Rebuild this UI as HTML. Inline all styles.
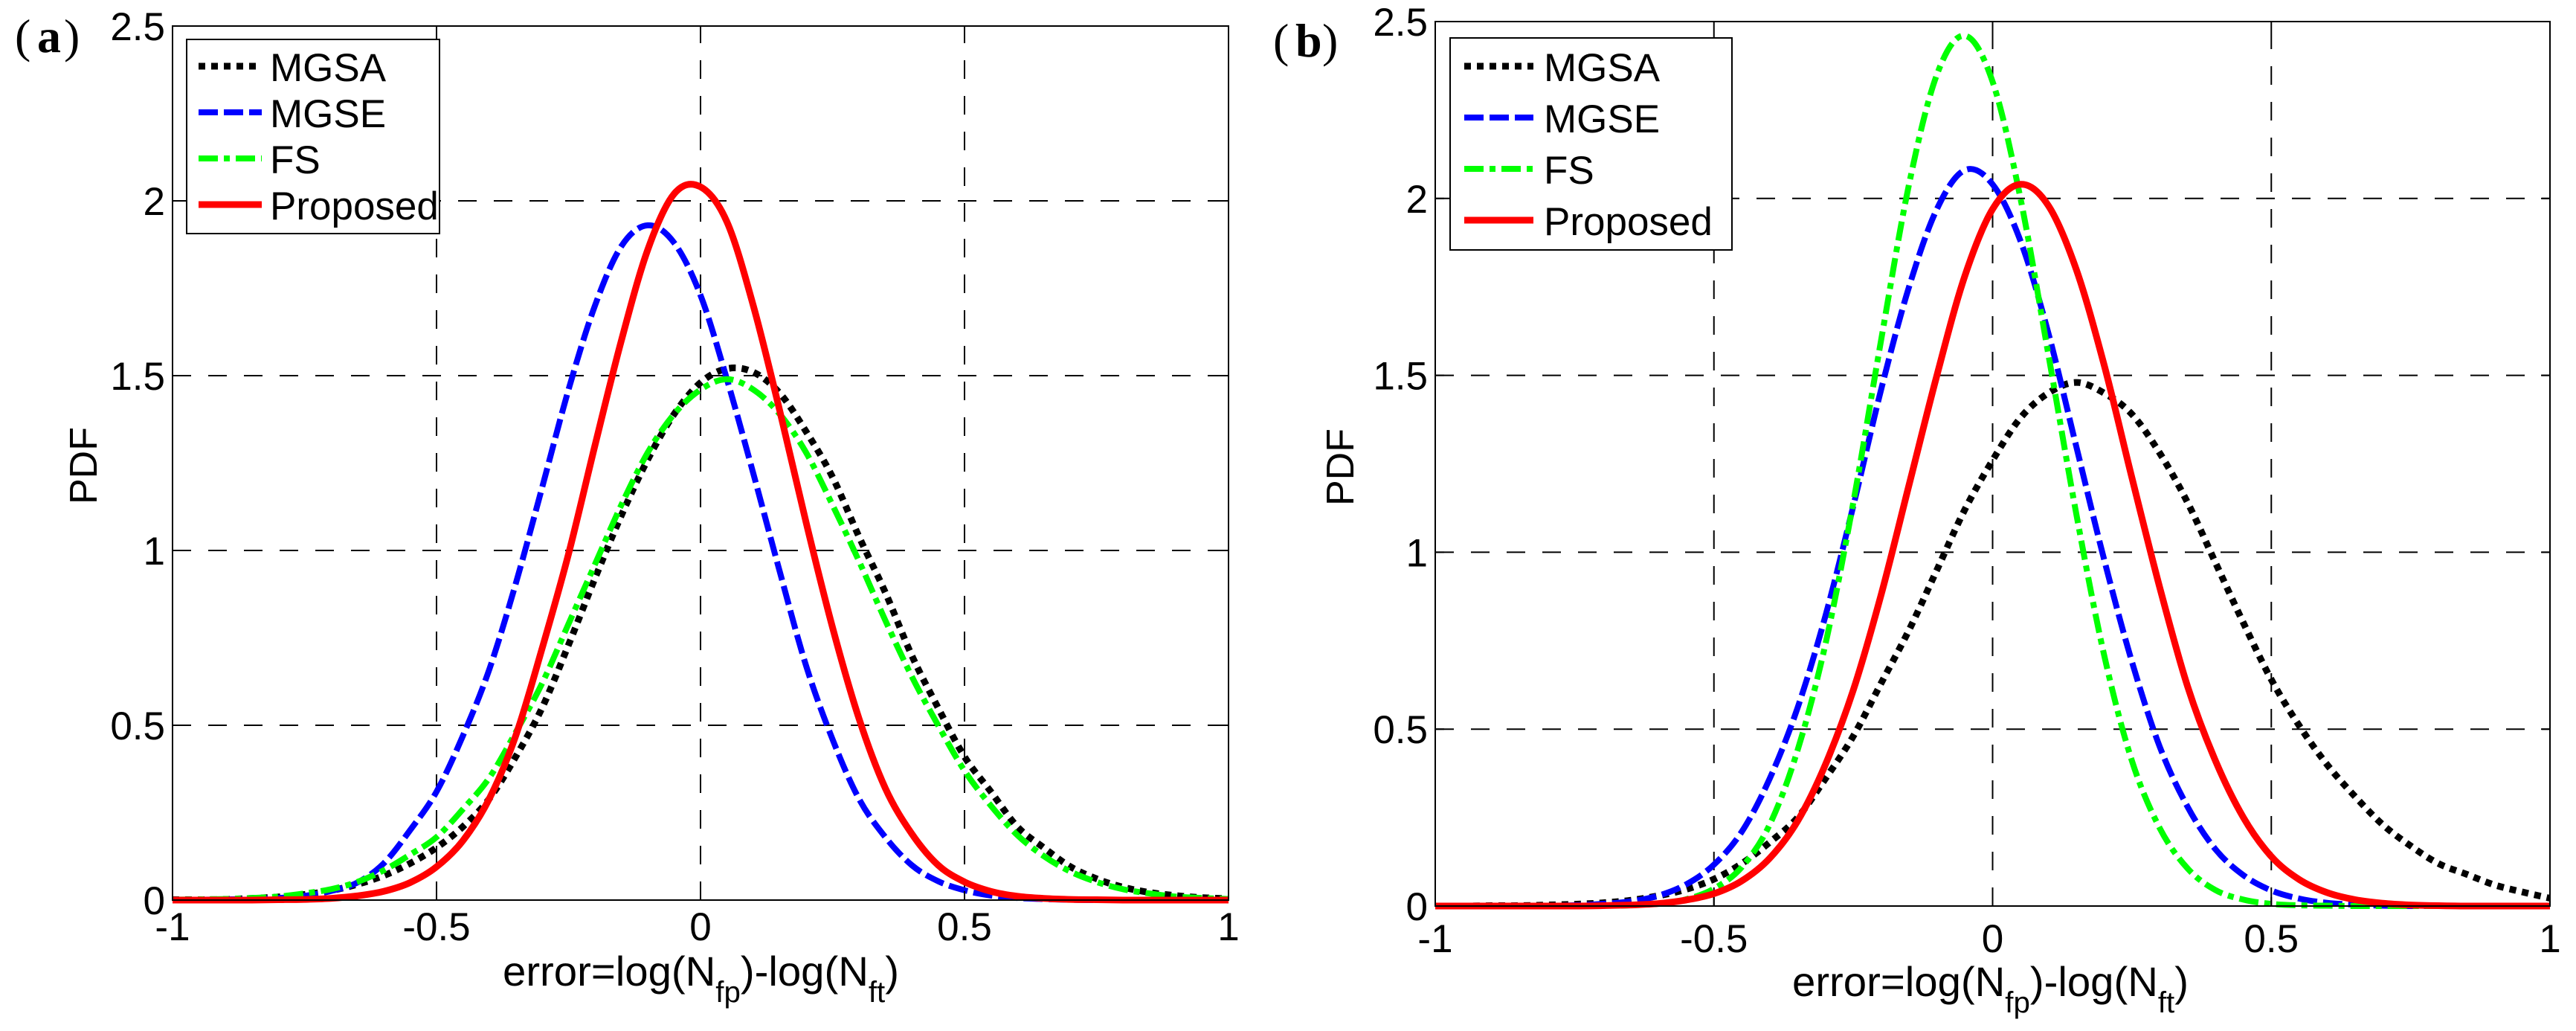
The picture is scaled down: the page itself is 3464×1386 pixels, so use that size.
<!DOCTYPE html>
<html><head><meta charset="utf-8"><style>
html,body{margin:0;padding:0;background:#fff;}
svg{display:block;font-family:"Liberation Sans",Arial,sans-serif;}
</style></head><body>
<svg id="fig" width="3464" height="1386" viewBox="0 0 3464 1386" xmlns="http://www.w3.org/2000/svg">
<rect width="3464" height="1386" fill="#fff"/>
</svg>
<script>
// ---- data ----
const xGrid = [-1,-0.95,-0.9,-0.85,-0.8,-0.75,-0.7,-0.65,-0.6,-0.55,-0.5,-0.45,-0.4,-0.35,-0.3,-0.25,-0.2,-0.15,-0.1,-0.05,0,0.05,0.1,0.15,0.2,0.25,0.3,0.35,0.4,0.45,0.5,0.55,0.6,0.65,0.7,0.75,0.8,0.85,0.9,0.95,1];
const xTicks = [-1,-0.5,0,0.5,1];
const xTickLabels = ["-1","-0.5","0","0.5","1"];
const yTicks = [0,0.5,1,1.5,2,2.5];
const yTickLabels = ["0","0.5","1","1.5","2","2.5"];
const seriesNames = ["MGSA","MGSE","FS","Proposed"];

const aMGSA = [0.001,0.001,0.002,0.005,0.009,0.016,0.027,0.045,0.07,0.105,0.15,0.21,0.29,0.41,0.55,0.73,0.92,1.1,1.26,1.39,1.48,1.52,1.51,1.45,1.34,1.21,1.04,0.88,0.7,0.55,0.41,0.31,0.21,0.15,0.096,0.061,0.037,0.022,0.013,0.007,0.004];
const aMGSE = [0.001,0.001,0.002,0.003,0.006,0.012,0.026,0.05,0.105,0.2,0.31,0.47,0.66,0.905,1.18,1.46,1.7,1.87,1.93,1.88,1.73,1.49,1.22,0.94,0.67,0.46,0.29,0.18,0.1,0.054,0.028,0.013,0.006,0.003,0.001,0,0,0,0,0,0];
const aFS   = [0.001,0.002,0.003,0.006,0.01,0.019,0.031,0.052,0.085,0.13,0.18,0.26,0.35,0.48,0.62,0.79,0.96,1.13,1.28,1.39,1.46,1.49,1.46,1.39,1.28,1.13,0.97,0.8,0.64,0.5,0.37,0.27,0.186,0.126,0.082,0.052,0.031,0.019,0.01,0.006,0.003];
const aProp = [0,0,0,0,0.001,0.002,0.005,0.012,0.025,0.05,0.095,0.17,0.29,0.47,0.72,0.99,1.3,1.6,1.86,2.02,2.04,1.94,1.7,1.4,1.08,0.78,0.52,0.32,0.19,0.1,0.052,0.025,0.011,0.005,0.002,0.001,0,0,0,0,0];

const bMGSA = [0,0,0.001,0.001,0.003,0.005,0.009,0.016,0.029,0.047,0.076,0.12,0.18,0.25,0.36,0.48,0.63,0.78,0.95,1.12,1.26,1.38,1.45,1.48,1.45,1.39,1.28,1.14,0.97,0.8,0.64,0.51,0.4,0.31,0.23,0.17,0.12,0.09,0.06,0.04,0.022];
const bMGSE = [0,0,0,0,0.001,0.002,0.006,0.013,0.029,0.061,0.117,0.21,0.36,0.56,0.82,1.13,1.46,1.75,1.97,2.08,2.04,1.88,1.62,1.3,0.98,0.69,0.45,0.28,0.16,0.087,0.044,0.021,0.009,0.004,0.001,0,0,0,0,0,0];
const bFS   = [0,0,0,0,0,0,0.001,0.002,0.007,0.019,0.049,0.11,0.23,0.44,0.74,1.14,1.6,2.04,2.35,2.46,2.33,2.0,1.56,1.11,0.71,0.41,0.22,0.106,0.045,0.018,0.006,0.002,0.001,0,0,0,0,0,0,0,0];
const bProp = [0,0,0,0,0,0,0.001,0.003,0.007,0.017,0.035,0.071,0.135,0.24,0.4,0.61,0.88,1.19,1.5,1.78,1.97,2.04,1.98,1.8,1.53,1.21,0.9,0.62,0.41,0.25,0.14,0.075,0.038,0.018,0.008,0.003,0.001,0,0,0,0];

const svg = document.getElementById('fig');
const NS = 'http://www.w3.org/2000/svg';
function mk(tag, attrs, parent){
  const e = document.createElementNS(NS, tag);
  for (const k in attrs) e.setAttribute(k, attrs[k]);
  (parent||svg).appendChild(e);
  return e;
}
const styles = [
  {color:'#000000', w:9, dash:'9 8'},
  {color:'#0000ff', w:8, dash:'26 8'},
  {color:'#00ff00', w:8, dash:'26 8 8 8'},
  {color:'#ff0000', w:9, dash:''}
];
function smoothPath(pts){
  let d = 'M'+pts[0][0].toFixed(1)+','+pts[0][1].toFixed(1);
  for (let i=0;i<pts.length-1;i++){
    const p0=pts[Math.max(0,i-1)], p1=pts[i], p2=pts[i+1], p3=pts[Math.min(pts.length-1,i+2)];
    const c1x=p1[0]+(p2[0]-p0[0])/6, c1y=p1[1]+(p2[1]-p0[1])/6;
    const c2x=p2[0]-(p3[0]-p1[0])/6, c2y=p2[1]-(p3[1]-p1[1])/6;
    d+=' C'+c1x.toFixed(1)+','+c1y.toFixed(1)+' '+c2x.toFixed(1)+','+c2y.toFixed(1)+' '+p2[0].toFixed(1)+','+p2[1].toFixed(1);
  }
  return d;
}

function panel(cfg){
  const g = mk('g',{});
  
  
  const sx = v => cfg.L + (v - (-1)) / 2 * (cfg.R - cfg.L);
  const sy = v => cfg.B - v / 2.5 * (cfg.B - cfg.T);
  const gg = mk('g',{stroke:'#000','stroke-width':2,'stroke-dasharray':'25 23',fill:'none'},g);
  
  
  xTicks.slice(1,-1).forEach(v=>{ mk('line',{x1:sx(v),x2:sx(v),y1:cfg.B,y2:cfg.T},gg); });
  yTicks.slice(1,-1).forEach(v=>{ mk('line',{x1:cfg.L,x2:cfg.R,y1:sy(v),y2:sy(v)},gg); });
  cfg.series.forEach((arr,si)=>{
    const st = styles[si];
    const pts = xGrid.map((x,i)=>[sx(x), sy(arr[i])]);
    const p = mk('path',{d:smoothPath(pts),fill:'none',stroke:st.color,'stroke-width':st.w,'stroke-linecap':'butt','stroke-linejoin':'round'},g);
    if (st.dash) p.setAttribute('stroke-dasharray', st.dash);
    
    
  });
  const box = mk('rect',{x:cfg.L,y:cfg.T,width:cfg.R-cfg.L,height:cfg.B-cfg.T,fill:'none',stroke:'#000','stroke-width':2},g);
  
  
  xTicks.forEach((v,i)=>{
    mk('line',{x1:sx(v),x2:sx(v),y1:cfg.B,y2:cfg.B-12,stroke:'#000','stroke-width':2},g);
    mk('line',{x1:sx(v),x2:sx(v),y1:cfg.T,y2:cfg.T+12,stroke:'#000','stroke-width':2},g);
    const t = mk('text',{x:sx(v),y:cfg.xtb,'font-size':53,'text-anchor':'middle',fill:'#000'},g);
    t.textContent = xTickLabels[i];
    
    
  });
  yTicks.forEach((v,i)=>{
    mk('line',{x1:cfg.L,x2:cfg.L+12,y1:sy(v),y2:sy(v),stroke:'#000','stroke-width':2},g);
    mk('line',{x1:cfg.R,x2:cfg.R-12,y1:sy(v),y2:sy(v),stroke:'#000','stroke-width':2},g);
    const t = mk('text',{x:cfg.L-10,y:sy(v)+19,'font-size':53,'text-anchor':'end',fill:'#000'},g);
    t.textContent = yTickLabels[i];
    
    
  });
  const yt = mk('text',{x:0,y:0,'font-size':52,'text-anchor':'middle',transform:'translate('+cfg.ylx+','+cfg.yly+') rotate(-90)'},g);
  yt.textContent = 'PDF';
  
  
  const xt = mk('text',{x:cfg.xlx,y:cfg.xly,'font-size':56,textLength:533,lengthAdjust:'spacingAndGlyphs'},g);
  
  
  xt.innerHTML = 'error=log(N<tspan font-size="40" dy="22">fp</tspan><tspan dy="-22">)-log(N</tspan><tspan font-size="40" dy="22">ft</tspan><tspan dy="-22">)</tspan>';
  const lg = mk('g',{},g);
  
  
  mk('rect',{x:cfg.lg.x,y:cfg.lg.y,width:cfg.lg.w,height:cfg.lg.h,fill:'#fff',stroke:'#000','stroke-width':2},lg);
  seriesNames.forEach((n,i)=>{
    const st = styles[i];
    const y = cfg.lg.y0 + i*cfg.lg.dy;
    const e = mk('g',{},lg);
    
    
    const l = mk('line',{x1:cfg.lg.lx1,x2:cfg.lg.lx2,y1:y,y2:y,stroke:st.color,'stroke-width':st.w},e);
    if (st.dash) l.setAttribute('stroke-dasharray', st.dash);
    const t = mk('text',{x:cfg.lg.tx,y:y+20,'font-size':53},e);
    t.textContent = n;
  });
  const pl = mk('text',{x:cfg.plx,y:cfg.ply,'font-size':64,'font-family':'"Liberation Serif",serif'},g);
  
  
  pl.innerHTML = '<tspan x="'+(cfg.plx)+'">(</tspan><tspan x="'+(cfg.plx+30)+'" font-weight="bold">'+cfg.label+'</tspan><tspan x="'+(cfg.plx+66)+'">)</tspan>';
}

panel({name:'panel-a', label:'a', plx:20, ply:70,
  L:232,R:1652,T:35,B:1210, xtb:1264, ylx:130, yly:626, xlx:676, xly:1325,
  series:[aMGSA,aMGSE,aFS,aProp],
  lg:{x:251,y:53,w:340,h:261,y0:89,dy:62,lx1:267,lx2:352,tx:363}});
panel({name:'panel-b', label:'b', plx:1712, ply:76,
  L:1930,R:3429,T:29,B:1218, xtb:1280, ylx:1820, yly:628, xlx:2410, xly:1339,
  series:[bMGSA,bMGSE,bFS,bProp],
  lg:{x:1950,y:51,w:379,h:285,y0:89,dy:69,lx1:1969,lx2:2062,tx:2076}});
</script>
</body></html>
